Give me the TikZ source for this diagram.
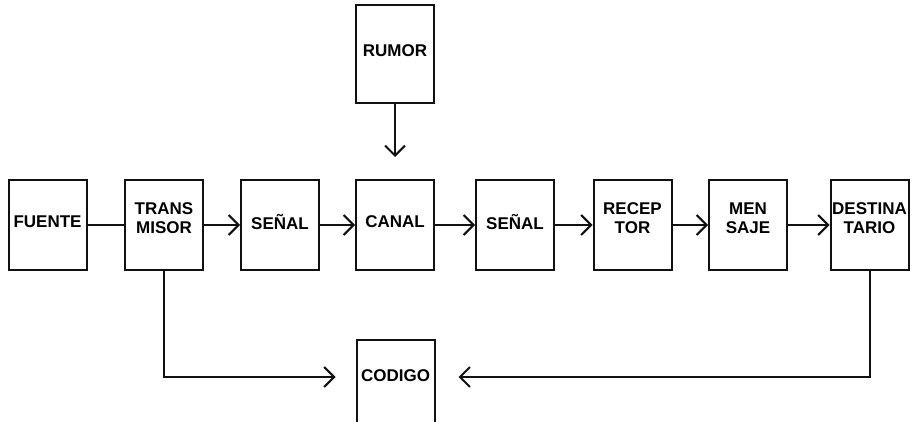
\documentclass[tikz,border=0pt]{standalone}
\usepackage{fontspec}
\setsansfont{Liberation Sans}
\usepackage{xcolor}
\definecolor{inkblk}{HTML}{111111}
\usepackage{tikz}
\usetikzlibrary{arrows.meta,positioning,calc}

\begin{document}
\begin{tikzpicture}[x=1pt,y=-1pt,
  blk/.style={draw=inkblk,line width=2pt,minimum width=78pt,minimum height=90pt,
    inner sep=1pt,align=center,text depth=6pt,font=\sffamily\bfseries\fontsize{17}{19}\selectfont},
  blktwo/.style={blk,text depth=14pt},
  flow/.style={draw=inkblk,line width=2pt,-{Straight Barb[length=10pt,width=20pt,line width=2pt]}}]
\useasboundingbox (0,0) rectangle (916,422);
% main chain
\node[blk] (fuente) at (47.5,225) {FUENTE};
\node[blktwo] (trans) at (164,225) {TRANS\\MISOR};
\node[blk] (senal1) at (280,225) {SEÑAL};
\node[blk] (canal) at (395,225) {CANAL};
\node[blk] (senal2) at (515,225) {SEÑAL};
\node[blktwo] (recep) at (632.5,225) {RECEP\\TOR};
\node[blktwo] (mensaje) at (748,225) {MEN\\SAJE};
\node[blktwo] (destino) at (869.5,225) {DESTINA\\TARIO};
% noise and code
\node[blk,minimum height=98pt] (rumor) at (395,54) {RUMOR};
\node[blk,minimum height=100pt,text height=40pt,text depth=57pt] (codigo) at (395.5,390) {CODIGO};
\coordinate (ruido) at ($(canal.north)+(0,-22)$);
\coordinate (codL) at ($(codigo.north west)+(-20,38)$);
\coordinate (codR) at ($(codigo.north east)+(23,38)$);

\draw[draw=inkblk,line width=2pt] (fuente) -- (trans);
\draw[flow] (trans) -- (senal1);
\draw[flow] (senal1) -- (canal);
\draw[flow] (canal) -- (senal2);
\draw[flow] (senal2) -- (recep);
\draw[flow] (recep) -- (mensaje);
\draw[flow] (mensaje) -- (destino);
\draw[flow] (rumor) -- (ruido);
\draw[flow] (trans.south) |- (codL);
\draw[flow] (destino.south) |- (codR);
\end{tikzpicture}
\end{document}
